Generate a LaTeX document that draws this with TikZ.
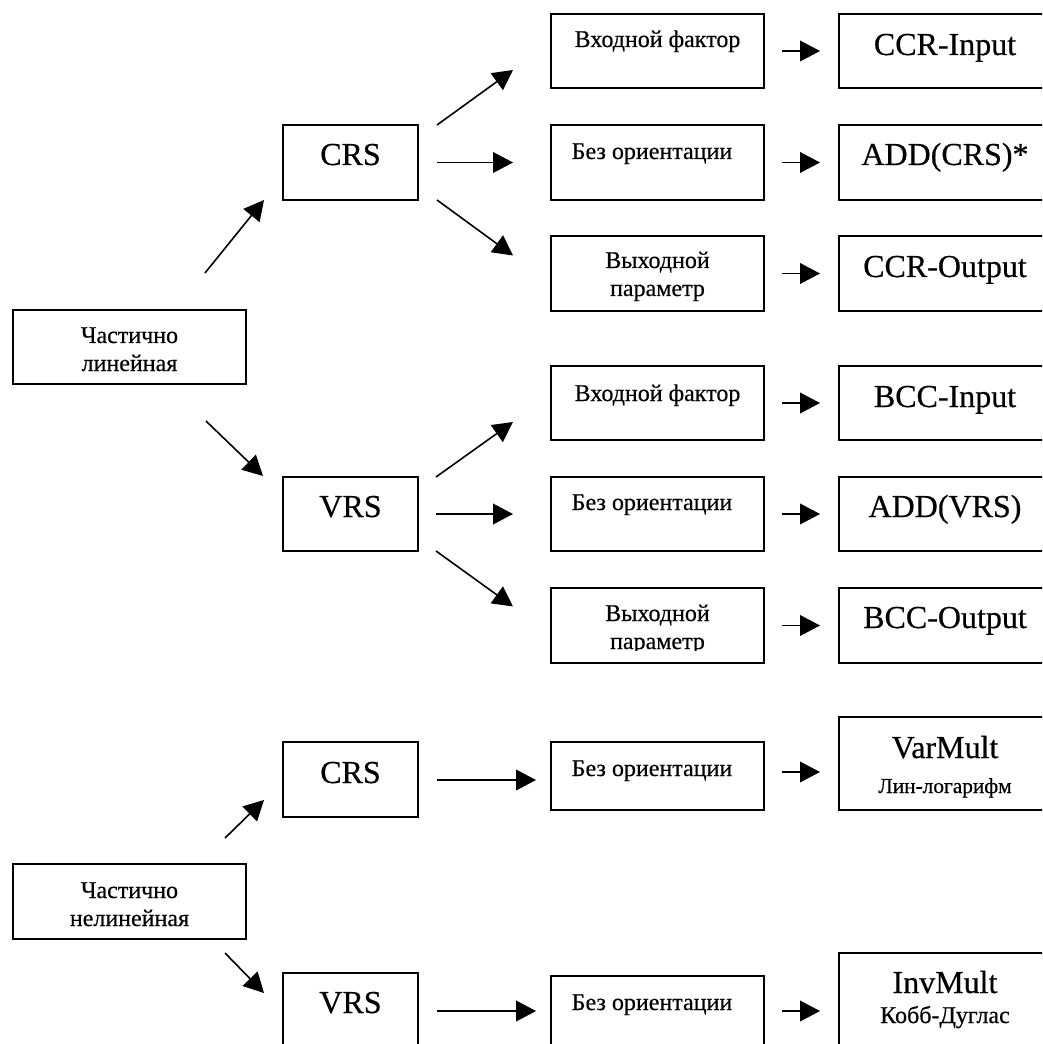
\documentclass[tikz,border=0pt]{standalone}
\usepackage{fontspec}
% regular serif face, slightly emboldened for the labels
\setmainfont{Liberation Serif}[BoldFont={Liberation Serif}, BoldFeatures={FakeBold=0.5}]
\usetikzlibrary{arrows.meta,calc,fit}
\begin{document}
\begin{tikzpicture}[x=0.75pt,y=-0.75pt,
  box/.style={draw, line width=1.3pt, inner sep=0pt, outer sep=0pt},
  big/.style={inner sep=0pt, anchor=base, font=\fontsize{24}{28}\selectfont\bfseries},
  mid/.style={inner sep=0pt, anchor=base, font=\fontsize{18}{21}\selectfont\bfseries},
  note/.style={inner sep=0pt, anchor=base, font=\fontsize{16}{18}\selectfont\bfseries},
  arr/.style={line width=1.2pt, -{Triangle[length=15pt,width=15.5pt]}}]
\useasboundingbox (0,0) rectangle (1042,1044);
\clip (0,0) rectangle (1042,1044);

% ---------- partially linear branch ----------
\node[box, fit={(13,310) (246,384)}] (pl) {};
\node[mid] (pl1) at (129.5,343) {Частично};
\node[mid] (pl2) at (129.5,371) {линейная};

\node[box, fit={(283,125) (418,200)}] (crs1) {};
\node[big] (crs1t) at (350.5,165) {CRS};
\node[box, fit={(283,477) (418,551)}] (vrs1) {};
\node[big] (vrs1t) at (350.5,517) {VRS};

% orientation boxes
\node[box, fit={(551,14) (764,88)}]   (o1) {};
\node[box, fit={(551,125) (764,200)}] (o2) {};
\node[box, fit={(551,236) (764,311)}] (o3) {};
\node[box, fit={(551,366) (764,440)}] (o4) {};
\node[box, fit={(551,477) (764,551)}] (o5) {};
\node[box, fit={(551,588) (764,663)}] (o6) {};
\node[mid] (o1t) at (657.5,47) {Входной фактор};
\node[mid] (o2t) at (652,159) {Без ориентации};
\node[mid] (o3a) at (657.5,268) {Выходной};
\node[mid] (o3b) at (657.5,296) {параметр};
\node[mid] (o4t) at (657.5,401) {Входной фактор};
\node[mid] (o5t) at (652,510) {Без ориентации};
\node[mid] (o6a) at (657.5,621) {Выходной};
\begin{scope}
  \clip (551,588) rectangle (764,650);
  \node[mid] (o6b) at (657.5,649) {параметр};
\end{scope}

% model boxes
\node[box, fit={(839,14) (1051,88)}]   (m1) {};
\node[box, fit={(839,125) (1051,200)}] (m2) {};
\node[box, fit={(839,236) (1051,311)}] (m3) {};
\node[box, fit={(839,366) (1051,440)}] (m4) {};
\node[box, fit={(839,477) (1051,551)}] (m5) {};
\node[box, fit={(839,588) (1051,663)}] (m6) {};
\node[big] (m1t) at (945,55)  {CCR-Input};
\node[big] (m2t) at (945,165) {ADD(CRS)*};
\node[big] (m3t) at (945,277) {CCR-Output};
\node[big] (m4t) at (945,407) {BCC-Input};
\node[big] (m5t) at (945,517) {ADD(VRS)};
\node[big] (m6t) at (945,628) {BCC-Output};

% ---------- partially nonlinear branch ----------
\node[box, fit={(13,864) (246,939)}] (pn) {};
\node[mid] (pn1) at (129.5,898) {Частично};
\node[mid] (pn2) at (129.5,926) {нелинейная};

\node[box, fit={(283,742) (418,817)}]  (crs2) {};
\node[big] (crs2t) at (350.5,783) {CRS};
\node[box, fit={(283,973) (418,1060)}] (vrs2) {};
\node[big] (vrs2t) at (350.5,1013) {VRS};

\node[box, fit={(551,742) (764,810)}]  (b1) {};
\node[mid] (b1t) at (652,776) {Без ориентации};
\node[box, fit={(551,976) (764,1060)}] (b2) {};
\node[mid] (b2t) at (652,1010) {Без ориентации};

\node[box, fit={(839,717) (1051,810)}]  (vm) {};
\node[big]  (vmt) at (945,758) {VarMult};
\node[note] (vms) at (945,793) {Лин-логарифм};
\node[box, fit={(839,953) (1051,1060)}] (im) {};
\node[big]  (imt) at (945,993) {InvMult};
\node[mid]  (ims) at (945,1023) {Кобб-Дуглас};

% ---------- connectors ----------
\draw[arr] ($(pl.north east)+(-41,-37)$) -- ($(crs1.south west)+(-19,0)$);
\draw[arr] ($(pl.south east)+(-40,37)$)  -- ($(vrs1.north west)+(-20,-1)$);

\draw[arr] ($(crs1.north east)+(19,0)$) -- ($(o1.west)+(-38,19)$);
\draw[arr] ($(crs1.east)+(19,0)$)       -- ($(o2.west)+(-38,0)$);
\draw[arr] ($(crs1.south east)+(19,0)$) -- ($(o3.west)+(-38,-18)$);
\draw[arr] ($(vrs1.north east)+(18,0)$) -- ($(o4.west)+(-38,19)$);
\draw[arr] ($(vrs1.east)+(18,0)$)       -- ($(o5.west)+(-38,0)$);
\draw[arr] ($(vrs1.south east)+(18,0)$) -- ($(o6.west)+(-38,-19)$);

\foreach \i in {1,...,6}
  \draw[arr] ($(o\i.east)+(18,0)$) -- ($(m\i.west)+(-19,0)$);

\draw[arr] ($(pn.north east)+(-21,-26)$) -- ($(crs2.south west)+(-19,-17)$);
\draw[arr] ($(pn.south east)+(-21,14)$)  -- ($(vrs2.north west)+(-19,20)$);

\draw[arr] ($(crs2.north east)+(19,38)$) -- ($(b1.north west)+(-15,38)$);
\draw[arr] ($(vrs2.north east)+(19,38)$) -- ($(b2.north west)+(-15,35)$);
\draw[arr] ($(b1.north east)+(18,30)$)   -- ($(vm.west |- b1.north)+(-19,30)$);
\draw[arr] ($(b2.north east)+(18,35)$)   -- ($(im.west |- b2.north)+(-19,35)$);
\end{tikzpicture}
\end{document}
